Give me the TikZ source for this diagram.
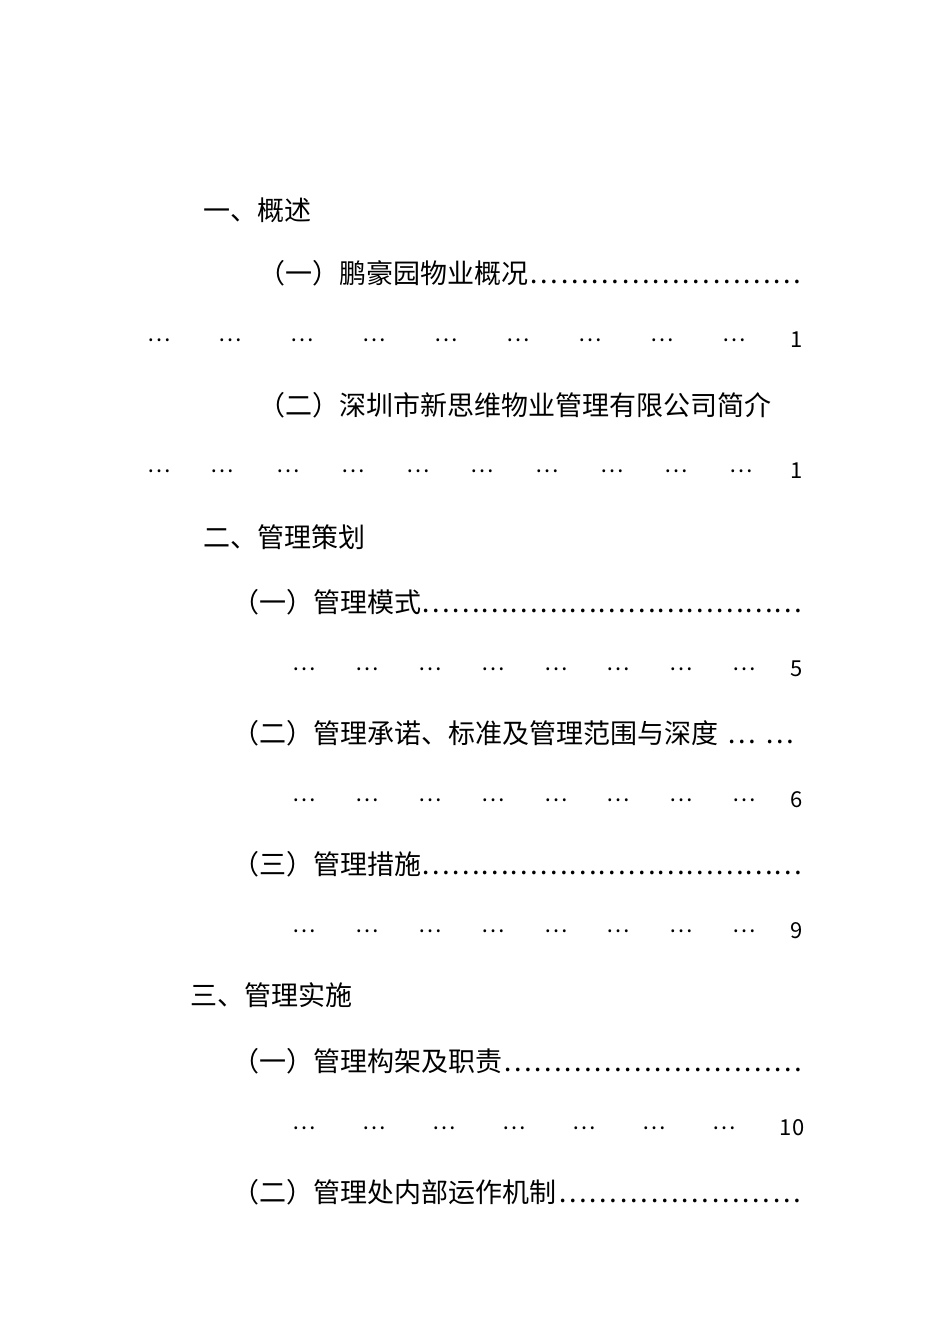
\documentclass[tikz,border=0pt]{standalone}
\usepackage{fontspec}
\setmainfont{Noto Sans CJK SC}
\begin{document}
\begin{tikzpicture}[x=1pt,y=1pt,
  t/.style={anchor=west,inner sep=0pt,font=\fontsize{27}{30}\selectfont},
  d/.style={inner sep=0pt,font=\fontsize{22}{24}\selectfont}]
\useasboundingbox (0,0) rectangle (950,1344);
\newcommand{\ld}[2]{\hbox to #1pt{#2\xleaders\hbox{…}\hfill}}
\node[t] (h1) at (203,1344-210) {一、概述};
\node[t] (a1) at (258,1344-273) {\ld{545}{（一）鹏豪园物业概况}};
\foreach \x [count=\i] in {147,218,290,362,434,506,578,650,722}
  \node[d,anchor=west] (r1\i) at (\x,1344-340) {…};
\node[d] (p1) at (797,1344-340) {1};
\node[t] (a2) at (258,1344-405) {（二）深圳市新思维物业管理有限公司简介};
\foreach \x [count=\i] in {147,210,276,341,406,470,535,600,664,729}
  \node[d,anchor=west] (r2\i) at (\x,1344-471) {…};
\node[d] (p2) at (797,1344-471) {1};
\node[t] (h2) at (203,1344-537) {二、管理策划};
\node[t] (b1) at (232,1344-602) {\ld{571}{（一）管理模式}};
\foreach \y/\n in {669/5,800/6,931/9}{
  \foreach \x in {292,355,418,481,544,606,669,732}
    \node[d,anchor=west] at (\x,1344-\y) {…};
  \node[d] at (797,1344-\y) {\n};}
\node[t] (b2) at (232,1344-733) {\ld{571}{（二）管理承诺、标准及管理范围与深度}};
\node[t] (b3) at (232,1344-864) {\ld{571}{（三）管理措施}};
\node[t] (h3) at (190,1344-995) {三、管理实施};
\node[t] (c1) at (232,1344-1061) {\ld{571}{（一）管理构架及职责}};
\foreach \x in {292,362,432,502,572,642,712}
  \node[d,anchor=west] at (\x,1344-1128) {…};
\node[d] (p3) at (792,1344-1128) {10};
\node[t] (c2) at (232,1344-1192) {\ld{571}{（二）管理处内部运作机制}};
\end{tikzpicture}
\end{document}
